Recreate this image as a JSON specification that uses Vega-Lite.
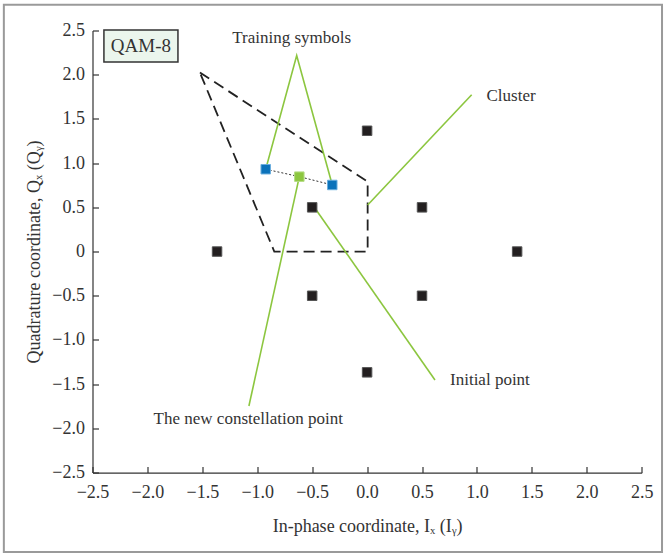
{
  "$schema": "https://vega.github.io/schema/vega-lite/v6.json",
  "width": 549.2,
  "height": 442.1,
  "autosize": {"type": "none"},
  "padding": {"left": 92.5, "top": 30.5, "right": 23.3, "bottom": 82.4},
  "background": "white",
  "config": {
    "view": {"stroke": null},
    "font": "Liberation Serif",
    "axis": {
      "grid": false,
      "domainColor": "#333333",
      "domainWidth": 1.2,
      "tickColor": "#333333",
      "tickWidth": 1.2,
      "tickSize": -6,
      "labelFont": "Liberation Serif",
      "labelFontSize": 18,
      "labelColor": "#333333",
      "titleFont": "Liberation Serif",
      "titleFontSize": 18,
      "titleFontWeight": "normal",
      "titleColor": "#333333"
    }
  },
  "datasets": {
    "frame": [{"x1": -3.307, "x2": 2.685, "y1": 2.79, "y2": -3.398}],
    "box": [{"x1": -2.396, "x2": -1.722, "y1": 2.507, "y2": 2.145, "cx": -2.059, "cy": 2.326, "label": "QAM-8"}],
    "cluster": [
      {"ord": 1, "x": -1.522, "y": 2.024},
      {"ord": 2, "x": 0.005, "y": 0.79},
      {"ord": 3, "x": 0.005, "y": 0.0},
      {"ord": 4, "x": -0.845, "y": 0.0},
      {"ord": 5, "x": -1.522, "y": 2.024}
    ],
    "link": [
      {"ord": 1, "x": -0.923, "y": 0.931},
      {"ord": 2, "x": -0.617, "y": 0.847},
      {"ord": 3, "x": -0.317, "y": 0.753}
    ],
    "pointers": [
      {"seg": "train", "ord": 1, "x": -0.923, "y": 0.931},
      {"seg": "train", "ord": 2, "x": -0.641, "y": 2.216},
      {"seg": "train", "ord": 3, "x": -0.317, "y": 0.753},
      {"seg": "cluster", "ord": 1, "x": 0.005, "y": 0.527},
      {"seg": "cluster", "ord": 2, "x": 0.952, "y": 1.773},
      {"seg": "initial", "ord": 1, "x": -0.468, "y": 0.479},
      {"seg": "initial", "ord": 2, "x": 0.618, "y": -1.452},
      {"seg": "new", "ord": 1, "x": -0.617, "y": 0.847},
      {"seg": "new", "ord": 2, "x": -1.076, "y": -1.747}
    ],
    "points": [
      {"type": "constellation", "x": -1.366, "y": 0},
      {"type": "constellation", "x": 1.366, "y": 0},
      {"type": "constellation", "x": 0, "y": 1.366},
      {"type": "constellation", "x": 0, "y": -1.366},
      {"type": "constellation", "x": -0.5, "y": 0.5},
      {"type": "constellation", "x": 0.5, "y": 0.5},
      {"type": "constellation", "x": -0.5, "y": -0.5},
      {"type": "constellation", "x": 0.5, "y": -0.5},
      {"type": "training", "x": -0.923, "y": 0.931},
      {"type": "training", "x": -0.317, "y": 0.753},
      {"type": "new", "x": -0.617, "y": 0.847}
    ],
    "labelsCenter": [
      {"text": "Training symbols", "x": -0.687, "y": 2.413},
      {"text": "The new constellation point", "x": -1.082, "y": -1.897}
    ],
    "labelsLeft": [
      {"text": "Cluster", "x": 1.087, "y": 1.757},
      {"text": "Initial point", "x": 0.755, "y": -1.452}
    ]
  },
  "layer": [
    {
      "data": {"name": "frame"},
      "mark": {"type": "rect", "filled": false, "stroke": "#9a9a9a", "strokeWidth": 2, "clip": false},
      "encoding": {
        "x": {"field": "x1", "type": "quantitative", "scale": {"domain": [-2.5, 2.5], "nice": false, "zero": false},
          "axis": {"values": [-2.5, -2.0, -1.5, -1.0, -0.5, 0, 0.5, 1.0, 1.5, 2.0, 2.5], "format": ".1f", "labelPadding": 17, "labelFlush": false, "title": "In-phase coordinate, Iₓ (Iᵧ)", "titlePadding": 16}},
        "x2": {"field": "x2"},
        "y": {"field": "y1", "type": "quantitative", "scale": {"domain": [-2.5, 2.5], "nice": false, "zero": false},
          "axis": {"values": [-2.5, -2.0, -1.5, -1.0, -0.5, 0, 0.5, 1.0, 1.5, 2.0, 2.5], "labelExpr": "datum.value == 0 ? '0' : format(datum.value, '.1f')", "labelPadding": 14, "labelFlush": false, "title": "Quadrature coordinate, Qₓ (Qᵧ)", "titlePadding": 8}},
        "y2": {"field": "y2"}
      }
    },
    {
      "data": {"name": "box"},
      "mark": {"type": "rect", "fill": "#ebf6ed", "stroke": "#333333", "strokeWidth": 1.5},
      "encoding": {
        "x": {"field": "x1", "type": "quantitative"},
        "x2": {"field": "x2"},
        "y": {"field": "y1", "type": "quantitative"},
        "y2": {"field": "y2"}
      }
    },
    {
      "data": {"name": "box"},
      "mark": {"type": "text", "fontSize": 19, "color": "#333333", "align": "center", "baseline": "middle"},
      "encoding": {
        "x": {"field": "cx", "type": "quantitative"},
        "y": {"field": "cy", "type": "quantitative"},
        "text": {"field": "label"}
      }
    },
    {
      "data": {"name": "cluster"},
      "mark": {"type": "line", "color": "#222222", "strokeWidth": 1.8, "strokeDash": [11, 6]},
      "encoding": {
        "x": {"field": "x", "type": "quantitative"},
        "y": {"field": "y", "type": "quantitative"},
        "order": {"field": "ord"}
      }
    },
    {
      "data": {"name": "link"},
      "mark": {"type": "line", "color": "#333333", "strokeWidth": 1, "strokeDash": [2, 2]},
      "encoding": {
        "x": {"field": "x", "type": "quantitative"},
        "y": {"field": "y", "type": "quantitative"},
        "order": {"field": "ord"}
      }
    },
    {
      "data": {"name": "pointers"},
      "mark": {"type": "line", "color": "#8cc63f", "strokeWidth": 1.6},
      "encoding": {
        "x": {"field": "x", "type": "quantitative"},
        "y": {"field": "y", "type": "quantitative"},
        "detail": {"field": "seg"},
        "order": {"field": "ord"}
      }
    },
    {
      "data": {"name": "points"},
      "mark": {"type": "point", "shape": "square", "filled": true, "size": 90, "opacity": 1, "strokeWidth": 1},
      "encoding": {
        "x": {"field": "x", "type": "quantitative"},
        "y": {"field": "y", "type": "quantitative"},
        "fill": {"field": "type", "type": "nominal", "scale": {"domain": ["constellation", "training", "new"], "range": ["#231f20", "#0b72ba", "#8cc63f"]}, "legend": null},
        "stroke": {"field": "type", "type": "nominal", "scale": {"domain": ["constellation", "training", "new"], "range": ["#555555", "#6aaede", "#b5dc85"]}, "legend": null}
      }
    },
    {
      "data": {"name": "labelsCenter"},
      "mark": {"type": "text", "fontSize": 17, "color": "#333333", "align": "center", "baseline": "middle"},
      "encoding": {
        "x": {"field": "x", "type": "quantitative"},
        "y": {"field": "y", "type": "quantitative"},
        "text": {"field": "text"}
      }
    },
    {
      "data": {"name": "labelsLeft"},
      "mark": {"type": "text", "fontSize": 17, "color": "#333333", "align": "left", "baseline": "middle"},
      "encoding": {
        "x": {"field": "x", "type": "quantitative"},
        "y": {"field": "y", "type": "quantitative"},
        "text": {"field": "text"}
      }
    }
  ]
}
